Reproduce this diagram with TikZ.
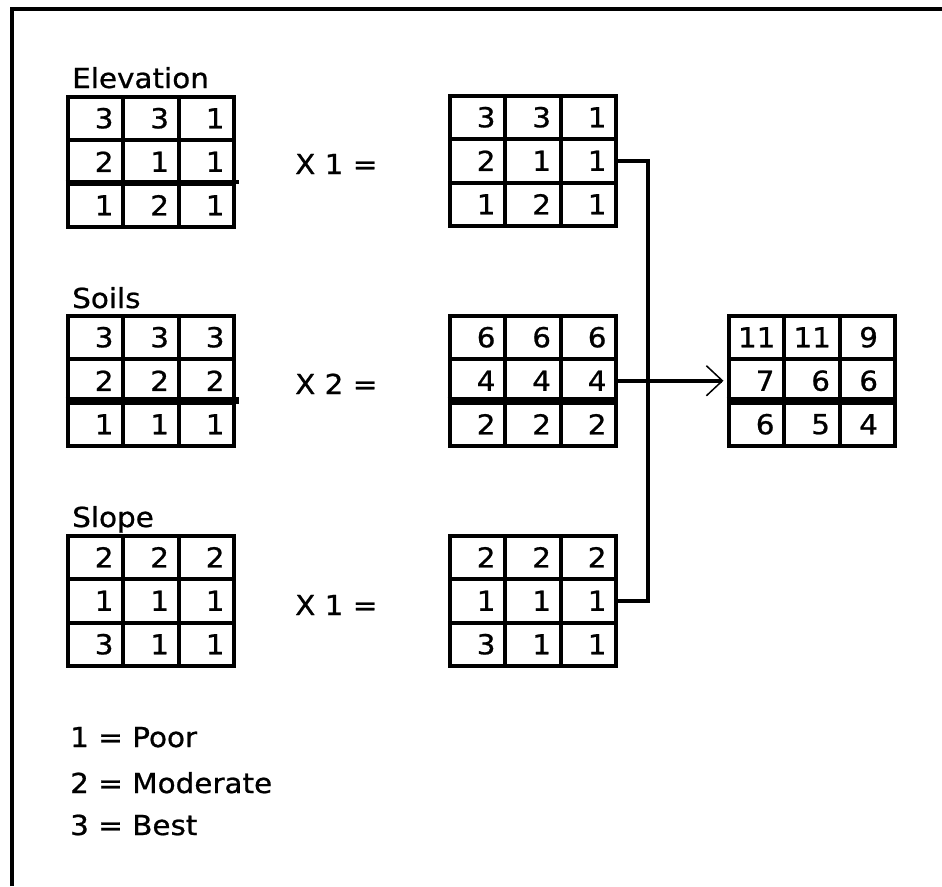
\documentclass[tikz,border=0pt]{standalone}
\usepackage{fontspec}
\setmainfont{DejaVu Sans}[FakeStretch=1.07, FakeBold=0.8]
\usetikzlibrary{arrows.meta}
\newcommand\gfont{\fontsize{27.5pt}{30pt}\selectfont}
\tikzset{
  cell/.style={draw, line width=4pt, minimum width=55.5pt, minimum height=43.5pt,
    inner xsep=9.5pt, inner ysep=0pt, text width=36.5pt, align=right, font=\gfont},
  c1/.style={}, c2/.style={}, c3/.style={},
  lbl/.style={anchor=base west, inner sep=0pt, font=\gfont},
  conn/.style={line width=4pt},
  frame/.style={line width=4pt},
  thickrule/.style={line width=6.5pt},
}
\newcommand\mkgrid[4]{%
  \foreach \v [count=\i from 0] in {#4} {%
    \pgfmathtruncatemacro\r{div(\i,3)+1}%
    \pgfmathtruncatemacro\c{mod(\i,3)+1}%
    \node[cell, c\c] (#1-\r-\c) at ({#2+(\c-0.5)*55.5}, {#3+(\r-0.5)*43.5}) {\v};
  }%
}
\begin{document}
\begin{tikzpicture}[x=1pt, y=-1pt]
\useasboundingbox (0,0) rectangle (942,886);
\fill[white] (0,0) rectangle (942,886);
% frame
\draw[frame] (12,886) -- (12,9) -- (942,9);

% left grids
\node[lbl] (tE) at (72,88) {Elevation};
\mkgrid{E}{67.5}{96.5}{3,3,1,2,1,1,1,2,1}
\draw[line width=4pt] (E-3-1.north west) -- ([xshift=3pt]E-3-3.north east);

\node[lbl] (tS) at (72,308) {Soils};
\mkgrid{S}{67.5}{315.5}{3,3,3,2,2,2,1,1,1}
\draw[thickrule] (S-3-1.north west) -- ([xshift=3pt]S-3-3.north east);

\node[lbl] (tL) at (72,527) {Slope};
\mkgrid{L}{67.5}{535.5}{2,2,2,1,1,1,3,1,1}

% multipliers
\node[lbl] (x1) at (295,174) {X 1 =};
\node[lbl] (x2) at (295,394) {X 2 =};
\node[lbl] (x3) at (295,615) {X 1 =};

% middle grids
\mkgrid{M1}{449.5}{95.5}{3,3,1,2,1,1,1,2,1}
\mkgrid{M2}{449.5}{315.5}{6,6,6,4,4,4,2,2,2}
\draw[thickrule] (M2-3-1.north west) -- (M2-3-3.north east);
\mkgrid{M3}{449.5}{535.5}{2,2,2,1,1,1,3,1,1}

% result grid
\begin{scope}[c3/.style={inner xsep=17pt, text width=21.5pt}]
\mkgrid{R}{728.5}{315.5}{11,11,9,7,6,6,6,5,4}
\end{scope}
\draw[thickrule] (R-3-1.north west) -- (R-3-3.north east);

% connectors
\coordinate (J) at (648,381);
\draw[conn] (M1-2-3.east) -| (J) |- (M3-2-3.east);
\draw[conn, -{Straight Barb[length=16pt, width=30pt, line width=1.5pt]}, shorten >=3pt]
  (M2-2-3.east) -- (R-2-1.west);

% legend
\node[lbl] (g1) at (70,747) {1 = Poor};
\node[lbl] (g2) at (70,793) {2 = Moderate};
\node[lbl] (g3) at (70,835) {3 = Best};
\end{tikzpicture}
\end{document}
